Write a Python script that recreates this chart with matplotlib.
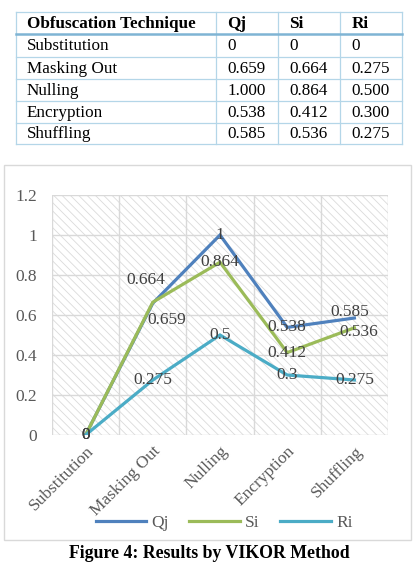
import matplotlib
matplotlib.use("Agg")
from matplotlib import pyplot as plt
from matplotlib import patches
from matplotlib.lines import Line2D

# table / chart data
techniques = ["Substitution", "Masking Out", "Nulling", "Encryption", "Shuffling"]
qj = [0, 0.659, 1.000, 0.538, 0.585]
si = [0, 0.664, 0.864, 0.412, 0.536]
ri = [0, 0.275, 0.500, 0.300, 0.275]
header = ["Obfuscation Technique", "Qj", "Si", "Ri"]
series_names = ["Qj", "Si", "Ri"]
y_ticks = [0, 0.2, 0.4, 0.6, 0.8, 1.0, 1.2]

W, H = 419, 563
plt.rcParams["font.family"] = ["Liberation Serif", "DejaVu Serif"]
plt.rcParams["hatch.linewidth"] = 0.6
fig = plt.figure(figsize=(W / 100, H / 100), dpi=100)


def fx(px):
    return px / W


def fy(py):
    return 1 - py / H


# ---- table drawn in pixel coords ----
col_edges = [15.5, 216, 278, 340, 402]
row_edges = [12, 34, 57, 79, 101, 123, 144]
line_col = "#b4d6e8"
for x in col_edges:
    fig.add_artist(Line2D([fx(x), fx(x)], [fy(row_edges[0]), fy(row_edges[-1])],
                          color=line_col, lw=0.9))
for i, y in enumerate(row_edges):
    if i == 1:
        fig.add_artist(Line2D([fx(col_edges[0]), fx(col_edges[-1])], [fy(y), fy(y)],
                              color="#7fb4d4", lw=1.8))
    else:
        fig.add_artist(Line2D([fx(col_edges[0]), fx(col_edges[-1])], [fy(y), fy(y)],
                              color=line_col, lw=0.9))


def cell(v):
    return "0" if v == 0 else "{:.3f}".format(v)


rows = [header] + [[t, cell(a), cell(b), cell(c)] for t, a, b, c in zip(techniques, qj, si, ri)]
for r, row in enumerate(rows):
    yc = (row_edges[r] + row_edges[r + 1]) / 2
    for c, txt in enumerate(row):
        fig.text(fx(col_edges[c] + 11.5), fy(yc + 1), txt, ha="left", va="center",
                 fontsize=12.3, fontweight="bold" if r == 0 else "normal", color="black")

# ---- chart frame ----
fig.add_artist(patches.Rectangle((fx(3.5), fy(540)), fx(411) - fx(3.5), fy(165) - fy(540),
                                 transform=fig.transFigure, fill=False,
                                 edgecolor="#d9d9d9", lw=1))

ax = fig.add_axes([fx(52), fy(435), fx(388) - fx(52), fy(195) - fy(435)])
x = list(range(len(techniques)))
ax.set_xlim(-0.5, len(techniques) - 0.5)
ax.set_ylim(0, 1.2)

ax.add_patch(patches.Rectangle((0, 0), 1, 1, transform=ax.transAxes, facecolor="white",
                               edgecolor="#dadada", hatch="\\\\\\\\", lw=0, zorder=0))
for yv in y_ticks:
    ax.axhline(yv, color="#d9d9d9", lw=1, zorder=1)
for xv in [i - 0.5 for i in range(len(techniques) + 1)]:
    ax.axvline(xv, color="#d9d9d9", lw=1, zorder=1)
for s in ax.spines.values():
    s.set_visible(False)

colors = ["#4F81BD", "#9BBB59", "#4BACC6"]
label_offsets = {(0, 1): (10, -12), (1, 1): (-5, 16), (0, 4): (-3, 4), (1, 4): (3, -3)}
for k, (vals, name, col) in enumerate(zip([qj, si, ri], series_names, colors)):
    ax.plot(x, vals, color=col, lw=2.3, label=name, zorder=3, solid_joinstyle="miter")
    for i, v in enumerate(vals):
        dx, dy = label_offsets.get((k, i), (0, 0))
        ax.annotate("{:g}".format(v), (i, v), xytext=(dx, dy), textcoords="offset points",
                    ha="center", va="center", fontsize=12.5, color="#404040", zorder=4)

ax.set_yticks(y_ticks)
ax.set_yticklabels(["{:g}".format(v) for v in y_ticks], fontsize=12.5, color="#595959")
ax.set_xticks(x)
ax.set_xticklabels(techniques, rotation=45, ha="right", va="top", rotation_mode="anchor",
                   fontsize=12.5, color="#595959")
ax.tick_params(axis="both", length=0)
ax.tick_params(axis="y", pad=11)
ax.tick_params(axis="x", pad=6)

fig.legend(loc="center", bbox_to_anchor=(fx(224), fy(523)), ncol=3, frameon=False,
           fontsize=12.5, handlelength=2.9, handletextpad=0.3, columnspacing=1.2,
           labelcolor="#595959")

fig.text(fx(209), fy(554), "Figure 4: Results by VIKOR Method", ha="center", va="center",
         fontsize=12.8, fontweight="bold")

fig.savefig("out.png", dpi=100)
